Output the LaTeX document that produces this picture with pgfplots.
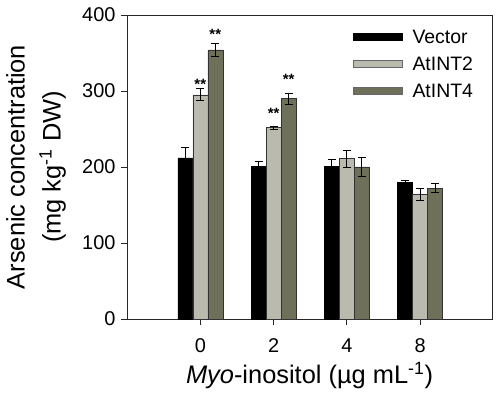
\documentclass[border=0pt]{standalone}
\usepackage{pgfplots}
\pgfplotsset{compat=1.18}
\usepackage{fontspec}
\setmainfont{Liberation Sans}
\definecolor{lightbar}{RGB}{186,187,174}
\definecolor{darkbar}{RGB}{110,112,90}
\begin{document}
\begin{tikzpicture}
\begin{axis}[
  width=365bp, height=304bp, scale only axis,
  ybar=0pt, bar width=15bp,
  xmin=-1, xmax=3.98, ymin=0, ymax=400,
  xtick={0,1,2,3}, xticklabels={0,2,4,8},
  ytick={0,100,200,300,400},
  xtick pos=bottom, ytick pos=left,
  tick align=outside, major tick length=6bp,
  axis line style={line width=0.8bp, black!85},
  tick style={line width=0.8bp, black!85},
  /pgf/number format/assume math mode=true,
  tick label style={font=\fontsize{20}{20}\selectfont},
  yticklabel style={xshift=-2bp},
  xticklabel style={yshift=-10bp},
  xlabel={\textit{Myo}-inositol (µg mL\textsuperscript{-1})},
  xlabel style={font=\fontsize{25.5}{25.5}\selectfont, at={(axis description cs:0.5,0)}, anchor=center, yshift=-57bp},
  ylabel={Arsenic concentration\\(mg kg\textsuperscript{-1} DW)},
  ylabel style={font=\fontsize{25.5}{36}\selectfont, align=center, at={(axis description cs:-0.2493,0.5)}, anchor=center},
  legend style={draw=none, fill=none, at={(rel axis cs:0.619,0.951)}, anchor=north west,
    font=\fontsize{19.5}{19.5}\selectfont, inner sep=0pt, row sep=10bp,
    nodes={inner sep=0pt, text height=13bp, text depth=4bp}},
  legend cell align=left,
  error bars/error bar style={line width=0.8bp, black},
  error bars/error mark options={rotate=90, mark size=4bp, line width=0.8bp, black},
]
\addplot+[fill=black, draw=black, line width=0.4bp,
  legend image code/.code={\draw[fill=black,draw=black,line width=0.4bp] (0bp,-2bp) rectangle (49bp,5bp); \path (59bp,0bp);},
  error bars/.cd, y dir=both, y explicit]
  coordinates {(0,212) +- (0,14) (1,201) +- (0,7) (2,201) +- (0,9) (3,180) +- (0,3)};
\addplot+[fill=lightbar, draw=black!80, line width=0.4bp,
  legend image code/.code={\draw[fill=lightbar,draw=black!60,line width=0.4bp] (0bp,-2bp) rectangle (49bp,5bp); \path (59bp,0bp);},
  error bars/.cd, y dir=both, y explicit]
  coordinates {(0,295) +- (0,8) (1,252) +- (0,2) (2,211) +- (0,11) (3,164) +- (0,8)};
\addplot+[fill=darkbar, draw=black!80, line width=0.4bp,
  legend image code/.code={\draw[fill=darkbar,draw=black!60,line width=0.4bp] (0bp,-2bp) rectangle (49bp,5bp); \path (59bp,0bp);},
  error bars/.cd, y dir=both, y explicit]
  coordinates {(0,354) +- (0,9) (1,290) +- (0,7) (2,200) +- (0,13) (3,172) +- (0,6)};
\legend{Vector, AtINT2, AtINT4}
\node[font=\bfseries\fontsize{15}{15}\selectfont, anchor=base] at (axis cs:0,302) {**};
\node[font=\bfseries\fontsize{15}{15}\selectfont, anchor=base, xshift=15bp] at (axis cs:0,368) {**};
\node[font=\bfseries\fontsize{15}{15}\selectfont, anchor=base] at (axis cs:1,264) {**};
\node[font=\bfseries\fontsize{15}{15}\selectfont, anchor=base, xshift=15bp] at (axis cs:1,308) {**};
\end{axis}
\pgfresetboundingbox
\path ([shift={(-127bp,-77bp)}]current axis.south west) rectangle ([shift={(8bp,15bp)}]current axis.north east);
\end{tikzpicture}
\end{document}
